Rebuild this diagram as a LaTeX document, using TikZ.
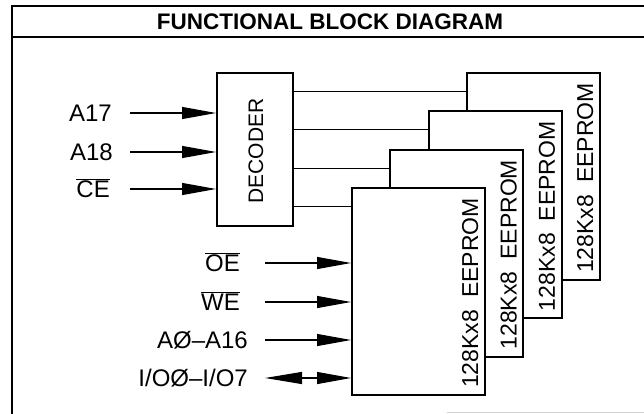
\documentclass[tikz,border=0pt]{standalone}
\usepackage{fontspec}
\setmainfont{Liberation Sans}
\usetikzlibrary{arrows.meta}
\begin{document}
\begin{tikzpicture}[x=1pt,y=-1pt,
  frame/.style={line width=2pt},
  blk/.style={draw, line width=2pt, fill=white, inner sep=0pt},
  wire/.style={line width=1.1pt},
  inarr/.style={line width=1.1pt, -{Triangle[length=34pt,width=12pt]}},
  biarr/.style={line width=1.1pt, {Triangle[length=37pt,width=12pt]}-{Triangle[length=34pt,width=12pt]}},
  lab/.style={font=\fontsize{24}{28}\selectfont, inner sep=0pt, text height=17pt, text depth=0pt, anchor=east},
  chip/.style={font=\fontsize{23}{27}\selectfont, rotate=90, inner sep=0pt, anchor=west, text height=16.4pt, text depth=0pt}
]
\useasboundingbox (0,0) rectangle (644,414);
% frame and title
\draw[frame] (12,414) -- (12,6) -- (644,6);
\draw[frame] (12,37) -- (644,37);
\draw[gray!35, line width=1pt] (447,412) -- (644,412);
\node[font=\fontsize{22.5}{27}\selectfont\bfseries] (title) at (330,22) {FUNCTIONAL BLOCK DIAGRAM};
% decoder
\node[blk, minimum width=76pt, minimum height=152pt] (dec) at (255,149.5) {};
\node[rotate=90, font=\fontsize{21}{25}\selectfont, inner sep=0pt] (dect) at (256,151) {DECODER};
% EEPROM stack
\node[blk, minimum width=133pt, minimum height=207pt] (b4) at (533.5,176.5) {};
\node[chip] (t4) at ([xshift=-16pt,yshift=8pt]b4.south east) {128Kx8\hspace{12pt}EEPROM};
\node[blk, minimum width=133pt, minimum height=207pt] (b3) at (495.2,214.8) {};
\node[chip] (t3) at ([xshift=-16pt,yshift=8pt]b3.south east) {128Kx8\hspace{12pt}EEPROM};
\node[blk, minimum width=133pt, minimum height=207pt] (b2) at (456.8,253.2) {};
\node[chip] (t2) at ([xshift=-16pt,yshift=8pt]b2.south east) {128Kx8\hspace{12pt}EEPROM};
\node[blk, minimum width=133pt, minimum height=207pt] (b1) at (418.5,291.5) {};
\node[chip] (t1) at ([xshift=-16pt,yshift=8pt]b1.south east) {128Kx8\hspace{12pt}EEPROM};
% decoder outputs
\foreach \b in {b1,b2,b3,b4}{
  \draw[wire] ([yshift=-19.5pt]\b.north west -| dec.east) -- ([yshift=-19.5pt]\b.north west);
}
% decoder inputs
\node[lab] (la17) at (112,113) {A17};
\node[lab] (la18) at (113,152) {A18};
\node[lab] (lce) at (110,189) {$\overline{\mbox{CE}}$};
\draw[inarr] ([xshift=18pt]la17.east) -- (la17.east -| dec.west);
\draw[inarr] ([xshift=17pt]la18.east) -- (la18.east -| dec.west);
\draw[inarr] ([xshift=20pt]lce.east) -- (lce.east -| dec.west);
% memory inputs
\node[lab] (loe) at (240,263) {$\overline{\mbox{OE}}$};
\node[lab] (lwe) at (240,302) {$\overline{\mbox{WE}}$};
\node[lab] (laddr) at (248,340) {AØ–A16};
\node[lab] (lio) at (248,378) {I/OØ–I/O7};
\draw[inarr] ([xshift=25pt]loe.east) -- (loe.east -| b1.west);
\draw[inarr] ([xshift=25pt]lwe.east) -- (lwe.east -| b1.west);
\draw[inarr] ([xshift=17pt]laddr.east) -- (laddr.east -| b1.west);
\draw[biarr] ([xshift=17pt]lio.east) -- (lio.east -| b1.west);
\end{tikzpicture}
\end{document}
